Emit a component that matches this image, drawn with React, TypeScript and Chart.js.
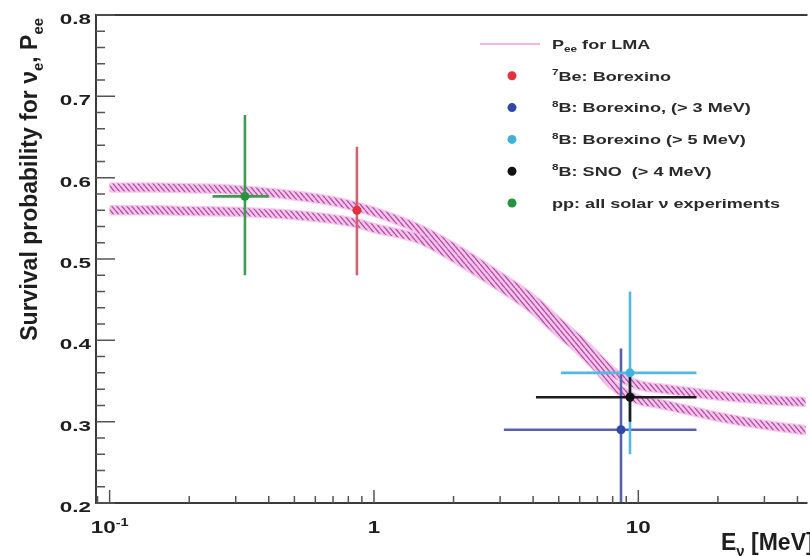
import React, { useEffect, useRef } from 'react';
import { Chart, registerables } from 'chart.js';

Chart.register(...registerables);

// Edges of the LMA survival-probability band, P_ee(E)
const bandEnergy = [0.1, 0.15, 0.2, 0.3, 0.5, 0.7, 0.86, 1.0, 1.5, 2, 3, 4, 5, 6, 7, 8, 10, 12, 15, 20, 30, 44];
const bandUpper = [0.588, 0.588, 0.587, 0.585, 0.578, 0.571, 0.564, 0.558, 0.536, 0.514, 0.478, 0.450, 0.422, 0.400, 0.379, 0.361, 0.345, 0.341, 0.337, 0.332, 0.327, 0.324];
const bandLower = [0.560, 0.560, 0.559, 0.558, 0.554, 0.549, 0.544, 0.538, 0.524, 0.502, 0.466, 0.438, 0.410, 0.388, 0.366, 0.345, 0.327, 0.322, 0.315, 0.306, 0.296, 0.289];

// Measurements: 7Be Borexino, 8B Borexino (>3), 8B Borexino (>5), 8B SNO (>4), pp
const measEnergy = [0.862, 8.6, 9.3, 9.3, 0.325];
const measProb = [0.56, 0.29, 0.36, 0.33, 0.577];
const measErrUp = [0.078, 0.1, 0.1, 0.03, 0.1];
const measErrDown = [0.08, 0.1, 0.1, 0.03, 0.097];
const measEnergyLow = [0.862, 3.1, 5.1, 4.1, 0.245];
const measEnergyHigh = [0.862, 16.6, 16.6, 16.6, 0.4];

// Axis ticks
const yTickValues = [0.2, 0.3, 0.4, 0.5, 0.6, 0.7, 0.8];
const yTickLabels = ['0.2', '0.3', '0.4', '0.5', '0.6', '0.7', '0.8'];
const xTickValues = [0.1, 1, 10];

type Seg = { t: string; k?: 'sup' | 'sub' };

const xTickLabels: Seg[][] = [
  [{ t: '10' }, { t: '-1', k: 'sup' }],
  [{ t: '1' }],
  [{ t: '10' }],
];

const legendEntries: Seg[][] = [
  [{ t: 'P' }, { t: 'ee', k: 'sub' }, { t: ' for LMA' }],
  [{ t: '7', k: 'sup' }, { t: 'Be: Borexino' }],
  [{ t: '8', k: 'sup' }, { t: 'B: Borexino, (> 3 MeV)' }],
  [{ t: '8', k: 'sup' }, { t: 'B: Borexino (> 5 MeV)' }],
  [{ t: '8', k: 'sup' }, { t: 'B: SNO  (> 4 MeV)' }],
  [{ t: 'pp: all solar \u03bd experiments' }],
];

const yTitle: Seg[] = [
  { t: 'Survival probability for \u03bd' },
  { t: 'e', k: 'sub' },
  { t: ', P' },
  { t: 'ee', k: 'sub' },
];
const xTitle: Seg[] = [{ t: 'E' }, { t: '\u03bd', k: 'sub' }, { t: ' [MeV]' }];

const markerColors = ['#e3323d', '#2f49a6', '#40b2de', '#111111', '#27923f'];
const barColors = ['#cf6470', '#5a5fae', '#55b8e0', '#1c1c1c', '#3c9d50'];

const FONT = '"Liberation Sans", Arial, Helvetica, sans-serif';

function drawRich(
  ctx: CanvasRenderingContext2D,
  segs: Seg[],
  x: number,
  y: number,
  size: number,
  sx: number,
  align: 'left' | 'right' | 'center',
  color: string,
) {
  const parts = segs.map((s) => {
    const fs = s.k ? size * 0.65 : size;
    ctx.font = `bold ${fs}px ${FONT}`;
    return { s, fs, w: ctx.measureText(s.t).width * sx };
  });
  const total = parts.reduce((a, p) => a + p.w, 0);
  let cx = align === 'left' ? x : align === 'right' ? x - total : x - total / 2;
  ctx.fillStyle = color;
  ctx.textBaseline = 'alphabetic';
  ctx.textAlign = 'left';
  for (const p of parts) {
    const dy = p.s.k === 'sup' ? -size * 0.42 : p.s.k === 'sub' ? size * 0.25 : 0;
    ctx.font = `bold ${p.fs}px ${FONT}`;
    ctx.save();
    ctx.translate(cx, y + dy);
    ctx.scale(sx, 1);
    ctx.fillText(p.s.t, 0, 0);
    ctx.restore();
    cx += p.w;
  }
}

// diagonal hatch used to fill the band edges
function makeHatch(): CanvasPattern | string {
  const c = document.createElement('canvas');
  c.width = 5;
  c.height = 6;
  const g = c.getContext('2d');
  if (!g) return '#e08ad0';
  g.fillStyle = '#f5c4ec';
  g.fillRect(0, 0, 5, 6);
  g.strokeStyle = '#b04ea2';
  g.lineWidth = 1.3;
  g.beginPath();
  for (let k = -5; k <= 5; k += 5) {
    g.moveTo(k, 0);
    g.lineTo(k + 5, 6);
  }
  g.stroke();
  return g.createPattern(c, 'repeat') || '#e08ad0';
}

const FIRST_DRAWN_POINT = measEnergy.length - 1;

const decorations = {
  id: 'rootStyle',
  beforeDatasetDraw(chart: any, args: any) {
    if (args.index !== FIRST_DRAWN_POINT) return;
    const ctx: CanvasRenderingContext2D = chart.ctx;
    const { left, right, top, bottom } = chart.chartArea;
    const xs = chart.scales.x;
    const ys = chart.scales.y;
    ctx.save();
    ctx.beginPath();
    ctx.rect(left, top, right - left, bottom - top);
    ctx.clip();
    ctx.lineWidth = 2.6;
    for (let i = 0; i < measEnergy.length; i++) {
      ctx.strokeStyle = barColors[i];
      const px = xs.getPixelForValue(measEnergy[i]);
      const py = ys.getPixelForValue(measProb[i]);
      ctx.beginPath();
      ctx.moveTo(px, ys.getPixelForValue(measProb[i] + measErrUp[i]));
      ctx.lineTo(px, ys.getPixelForValue(measProb[i] - measErrDown[i]));
      if (measEnergyHigh[i] > measEnergyLow[i]) {
        ctx.moveTo(xs.getPixelForValue(measEnergyLow[i]), py);
        ctx.lineTo(xs.getPixelForValue(measEnergyHigh[i]), py);
      }
      ctx.stroke();
    }
    ctx.restore();
  },
  afterDraw(chart: any) {
    const ctx: CanvasRenderingContext2D = chart.ctx;
    const { left, right, top, bottom } = chart.chartArea;
    const xs = chart.scales.x;
    const ys = chart.scales.y;
    ctx.save();

    // frame
    ctx.strokeStyle = '#3a3a3a';
    ctx.lineWidth = 2;
    ctx.beginPath();
    ctx.moveTo(right + 2, top);
    ctx.lineTo(left, top);
    ctx.lineTo(left, bottom);
    ctx.lineTo(right + 2, bottom);
    ctx.stroke();

    // inward ticks
    ctx.strokeStyle = '#555555';
    ctx.lineWidth = 1.5;
    ctx.beginPath();
    for (let k = 10; k <= 40; k++) {
      const v = k / 50;
      const py = ys.getPixelForValue(v);
      const len = k % 5 === 0 ? 19 : 9;
      ctx.moveTo(left, py);
      ctx.lineTo(left + len, py);
    }
    for (let d = -2; d <= 1; d++) {
      for (let m = 1; m <= 9; m++) {
        const v = m * Math.pow(10, d);
        if (v < xs.min || v > xs.max) continue;
        const px = xs.getPixelForValue(v);
        const len = m === 1 ? 13 : 7;
        ctx.moveTo(px, bottom);
        ctx.lineTo(px, bottom - len);
      }
    }
    ctx.stroke();

    // tick labels
    yTickValues.forEach((v, i) => {
      drawRich(ctx, [{ t: yTickLabels[i] }], left - 5, ys.getPixelForValue(v) + 9, 15, 1.5, 'right', '#1e1e1e');
    });
    xTickValues.forEach((v, i) => {
      drawRich(ctx, xTickLabels[i], xs.getPixelForValue(v), 533, 16, 1.4, 'center', '#1e1e1e');
    });

    // axis titles
    drawRich(ctx, xTitle, 721, 550, 23, 1, 'left', '#1e1e1e');
    ctx.save();
    ctx.translate(37, 18);
    ctx.rotate(-Math.PI / 2);
    drawRich(ctx, yTitle, 0, 0, 23, 1, 'right', '#1e1e1e');
    ctx.restore();

    // legend
    const rowY = (i: number) => 44 + i * 31.8;
    ctx.strokeStyle = '#f2b6e4';
    ctx.lineWidth = 2;
    ctx.beginPath();
    ctx.moveTo(480, rowY(0));
    ctx.lineTo(540, rowY(0));
    ctx.stroke();
    for (let i = 0; i < markerColors.length; i++) {
      ctx.fillStyle = markerColors[i];
      ctx.beginPath();
      ctx.arc(512, rowY(i + 1), 4.5, 0, Math.PI * 2);
      ctx.fill();
    }
    legendEntries.forEach((segs, i) => {
      drawRich(ctx, segs, 552, rowY(i) + 4.7, 13, 1.39, 'left', '#2a2a2a');
    });

    ctx.restore();
  },
};

export default function App() {
  const canvasRef = useRef<HTMLCanvasElement | null>(null);

  useEffect(() => {
    const canvas = canvasRef.current;
    if (!canvas) return;
    const hatch = makeHatch();
    const toXY = (ys: number[]) => bandEnergy.map((e, i) => ({ x: e, y: ys[i] }));

    const pointSets = measEnergy.map((e, i) => ({
      type: 'scatter' as const,
      data: [{ x: e, y: measProb[i] }],
      pointRadius: 4.5,
      pointBorderWidth: 0,
      backgroundColor: markerColors[i],
      borderColor: markerColors[i],
      showLine: false,
    }));

    const bandSet = (ys: number[], color: any, width: number) => ({
      type: 'line' as const,
      data: toXY(ys),
      borderColor: color,
      borderWidth: width,
      pointRadius: 0,
      fill: false,
      cubicInterpolationMode: 'monotone' as const,
    });

    const chart = new Chart(canvas, {
      type: 'scatter',
      data: {
        datasets: [
          ...pointSets,
          bandSet(bandUpper, hatch, 8),
          bandSet(bandLower, hatch, 8),
          bandSet(bandUpper, 'rgba(236,150,222,0.5)', 10.5),
          bandSet(bandLower, 'rgba(236,150,222,0.5)', 10.5),
        ] as any,
      },
      options: {
        responsive: false,
        animation: false,
        events: [],
        layout: { padding: { top: 15, left: 0, right: 0, bottom: 0 } },
        plugins: { legend: { display: false }, tooltip: { enabled: false } },
        scales: {
          x: {
            type: 'logarithmic',
            min: 0.0888,
            max: 42.9,
            grid: { display: false, drawTicks: false },
            border: { display: false },
            ticks: { display: false },
            afterFit: (s: any) => {
              s.height = 53;
            },
          },
          y: {
            type: 'linear',
            min: 0.2,
            max: 0.8,
            grid: { display: false, drawTicks: false },
            border: { display: false },
            ticks: { display: false },
            afterFit: (s: any) => {
              s.width = 96;
            },
          },
        },
      } as any,
      plugins: [decorations],
    });

    return () => chart.destroy();
  }, []);

  return (
    <div style={{ position: 'absolute', left: 0, top: 0, width: 810, height: 556, background: '#ffffff' }}>
      <canvas ref={canvasRef} width={810} height={556} />
    </div>
  );
}
